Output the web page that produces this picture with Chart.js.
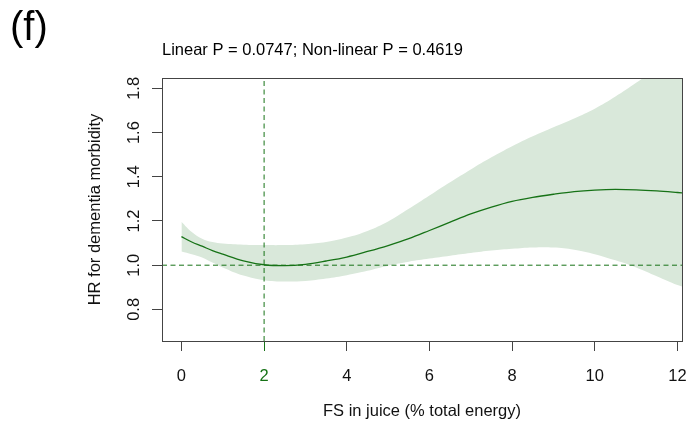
<!DOCTYPE html>
<html>
<head>
<meta charset="utf-8">
<script src="https://cdn.jsdelivr.net/npm/chart.js@4.4.1/dist/chart.umd.min.js"></script>
<style>
  html, body { margin: 0; padding: 0; background: #fff; }
  #wrap { width: 698px; height: 427px; }
</style>
</head>
<body>
<div id="wrap"><canvas id="hrChart" width="698" height="427"></canvas></div>
<script>
// FS in juice (% total energy) and the spline fit with its 95% band
const fsEnergy = [0, 0.25, 0.5, 0.75, 1, 1.5, 2, 2.5, 3, 3.5, 4, 4.5, 5, 5.5, 6, 6.5,
                  7, 7.5, 8, 8.5, 9, 9.5, 10, 10.5, 11, 11.5, 12, 12.2];
const hrFit = [1.129, 1.105, 1.086, 1.066, 1.05, 1.02, 1.002, 0.998, 1.004, 1.019, 1.037, 1.062,
               1.089, 1.12, 1.157, 1.195, 1.232, 1.263, 1.289, 1.307, 1.321, 1.333, 1.34, 1.343,
               1.341, 1.336, 1.329, 1.326];
const hrUpper = [1.197, 1.15, 1.12, 1.105, 1.098, 1.093, 1.091, 1.091, 1.095, 1.105, 1.125, 1.155,
                 1.198, 1.255, 1.315, 1.375, 1.433, 1.488, 1.538, 1.583, 1.624, 1.664, 1.708, 1.763,
                 1.825, 1.89, 1.96, 1.99];
const hrLower = [1.062, 1.05, 1.035, 1.012, 0.99, 0.953, 0.932, 0.926, 0.929, 0.94, 0.955, 0.975,
                 0.998, 1.016, 1.03, 1.043, 1.055, 1.066, 1.074, 1.08, 1.08, 1.07, 1.05, 1.022,
                 0.99, 0.95, 0.91, 0.9];

const xTicks = [0, 2, 4, 6, 8, 10, 12];
const yTicks = [0.8, 1.0, 1.2, 1.4, 1.6, 1.8];
const xRange = [-0.47, 12.11];
const yRange = [0.657, 1.847];
const refHR = 1;    // HR = 1 reference
const refFS = 2;    // reference intake

const panelTag = '(f)';
const pTitle = 'Linear P = 0.0747; Non-linear P = 0.4619';

const green = '#167216';
const bandFill = 'rgb(217, 232, 218)';
const fontFam = '"Liberation Sans", Arial, Helvetica, sans-serif';

const toPts = ys => fsEnergy.map((x, i) => ({ x: x, y: ys[i] }));

// R-style closed box round the plot region plus the header texts
const frameAndText = {
  id: 'frameAndText',
  afterDraw(chart) {
    const { ctx, chartArea: a } = chart;
    ctx.save();
    ctx.strokeStyle = '#444';
    ctx.lineWidth = 1;
    ctx.strokeRect(Math.round(a.left) + 0.5, Math.round(a.top) + 0.5,
                   Math.round(a.right - a.left), Math.round(a.bottom - a.top));
    ctx.fillStyle = '#000';
    ctx.textBaseline = 'alphabetic';
    ctx.textAlign = 'left';
    ctx.font = '40px ' + fontFam;
    ctx.fillText(panelTag, 10, 40);
    ctx.font = '16.5px ' + fontFam;
    ctx.fillText(pTitle, a.left, 55);
    ctx.restore();
  }
};

new Chart(document.getElementById('hrChart'), {
  type: 'line',
  data: {
    datasets: [
      {
        label: 'upper',
        data: toPts(hrUpper),
        borderWidth: 0,
        pointRadius: 0,
        tension: 0.4,
        backgroundColor: bandFill,
        fill: '+1',
        order: 3
      },
      {
        label: 'lower',
        data: toPts(hrLower),
        borderWidth: 0,
        pointRadius: 0,
        tension: 0.4,
        fill: false,
        order: 3
      },
      {
        label: 'ref HR',
        data: [{ x: xRange[0], y: refHR }, { x: xRange[1], y: refHR }],
        borderColor: green,
        borderWidth: 1,
        borderDash: [5, 3.5],
        pointRadius: 0,
        fill: false,
        order: 1
      },
      {
        label: 'ref FS',
        data: [{ x: refFS, y: yRange[0] }, { x: refFS, y: yRange[1] }],
        borderColor: green,
        borderWidth: 1,
        borderDash: [5, 3.5],
        pointRadius: 0,
        fill: false,
        order: 1
      },
      {
        label: 'HR',
        data: toPts(hrFit),
        borderColor: green,
        borderWidth: 1.3,
        pointRadius: 0,
        cubicInterpolationMode: 'monotone',
        fill: false,
        order: 0
      }
    ]
  },
  options: {
    responsive: false,
    animation: false,
    devicePixelRatio: 1,
    layout: { padding: { top: 78, right: 16, left: 0, bottom: 0 } },
    plugins: {
      legend: { display: false },
      tooltip: { enabled: false }
    },
    scales: {
      x: {
        type: 'linear',
        min: xRange[0],
        max: xRange[1],
        afterFit: s => {
          s.height = 86;
          // end labels may overhang, keep the plot width fixed
          s.paddingLeft = 0;
          s.paddingRight = 0;
        },
        afterBuildTicks: s => { s.ticks = xTicks.map(v => ({ value: v })); },
        grid: {
          drawOnChartArea: false,
          drawTicks: true,
          tickLength: 10,
          tickWidth: 1,
          tickColor: c => (c.tick && c.tick.value === refFS ? green : '#444')
        },
        border: { display: false },
        ticks: {
          padding: 16,
          maxRotation: 0,
          color: c => (c.tick && c.tick.value === refFS ? green : '#111'),
          font: { family: fontFam, size: 16.5 },
          callback: v => String(v)
        },
        title: {
          display: true,
          text: 'FS in juice (% total energy)',
          color: '#111',
          font: { family: fontFam, size: 16.5 },
          padding: { top: 0, bottom: 6 }
        }
      },
      y: {
        type: 'linear',
        min: yRange[0],
        max: yRange[1],
        afterFit: s => {
          s.width = 162;
          s.paddingTop = 0;
          s.paddingBottom = 0;
        },
        afterBuildTicks: s => { s.ticks = yTicks.map(v => ({ value: v })); },
        grid: {
          drawOnChartArea: false,
          drawTicks: true,
          tickLength: 10,
          tickWidth: 1,
          tickColor: '#444'
        },
        border: { display: false },
        ticks: {
          padding: 6,
          minRotation: 90,
          maxRotation: 90,
          crossAlign: 'center',
          color: '#111',
          font: { family: fontFam, size: 16.5 },
          callback: v => Number(v).toFixed(1)
        },
        title: {
          display: true,
          text: 'HR for dementia morbidity',
          color: '#111',
          font: { family: fontFam, size: 16.5 },
          padding: { top: 86, bottom: 0 }
        }
      }
    }
  },
  plugins: [frameAndText]
});
</script>
</body>
</html>
